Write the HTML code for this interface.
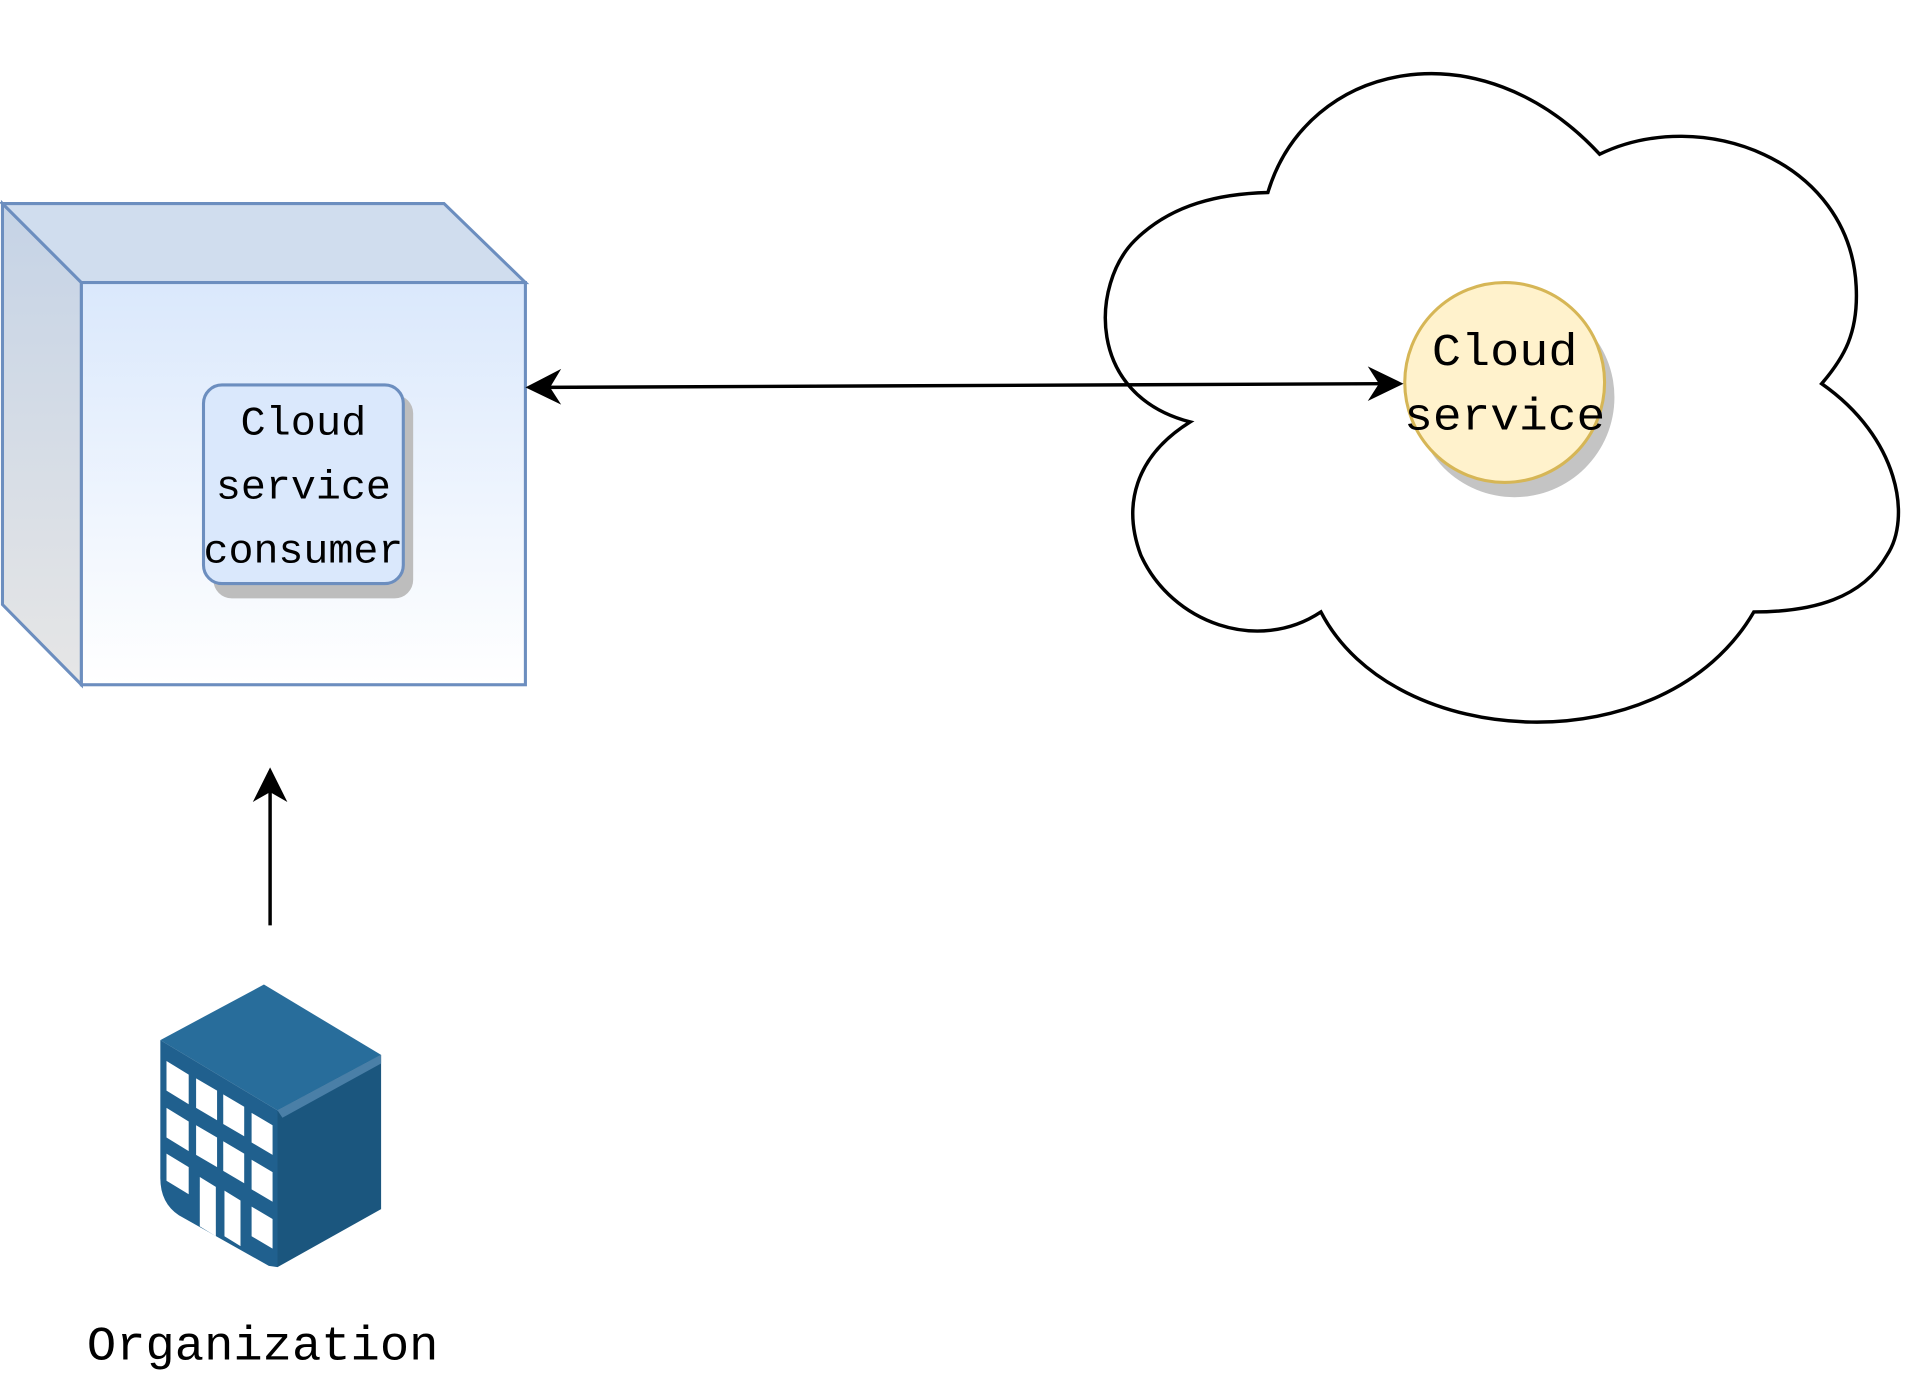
<!DOCTYPE html>
<html><head><meta charset="utf-8"><style>
html,body{margin:0;padding:0;background:#fff;width:1924px;height:1388px;overflow:hidden}
svg{display:block}
text{font-family:"Liberation Mono",monospace;fill:#000}
</style></head><body>
<svg width="1924" height="1388" viewBox="0 0 1560 1125" preserveAspectRatio="none">
<defs>
<linearGradient id="g" x1="0" y1="0" x2="0" y2="1">
<stop offset="0" stop-color="#dae8fc"/><stop offset="1" stop-color="#ffffff"/>
</linearGradient>
<linearGradient id="gl" x1="0" y1="0" x2="0" y2="1">
<stop offset="0" stop-color="#c5d3e6"/><stop offset="1" stop-color="#e6e6e6"/>
</linearGradient>
</defs>
<polygon points="2,165 66,229 66,555 2,490" fill="url(#gl)" stroke="#6c8ebf" stroke-width="2.5"/>
<polygon points="2,165 360,165 426,229 66,229" fill="#d0ddee" stroke="#6c8ebf" stroke-width="2.5"/>
<rect x="66" y="229" width="360" height="326" fill="url(#g)" stroke="#6c8ebf" stroke-width="2.5"/>
<rect x="173" y="320" width="162" height="165" rx="15" fill="#bdbdbd"/>
<rect x="165" y="312" width="162" height="161" rx="15" fill="#dae8fc" stroke="#6c8ebf" stroke-width="2.5"/>
<text x="246" y="352" font-size="33" text-anchor="middle" textLength="102" lengthAdjust="spacingAndGlyphs">Cloud</text>
<text x="246" y="404" font-size="33" text-anchor="middle" textLength="142" lengthAdjust="spacingAndGlyphs">service</text>
<text x="246" y="456" font-size="33" text-anchor="middle" textLength="162" lengthAdjust="spacingAndGlyphs">consumer</text>
<path d="M1028,156 C1060,50 1200,20 1297,125 C1380,85 1500,130 1505,232 C1507,270 1495,290 1477,311 C1540,355 1550,420 1530,450 C1510,485 1470,496 1422,496 C1350,620 1130,610 1071,496 C1020,530 950,505 925,450 C910,410 920,370 965,342 C880,320 885,230 920,195 C950,165 990,157 1028,156 Z" fill="#fff" stroke="#000" stroke-width="2.8"/>
<circle cx="1228" cy="322" r="81" fill="#c4c4c4"/>
<circle cx="1220" cy="310" r="81" fill="#fff2cc" stroke="#d6b656" stroke-width="2.5"/>
<text x="1220" y="296" font-size="37" text-anchor="middle" textLength="118" lengthAdjust="spacingAndGlyphs">Cloud</text>
<text x="1220" y="348" font-size="37" text-anchor="middle" textLength="163" lengthAdjust="spacingAndGlyphs">service</text>
<line x1="440" y1="314" x2="1120" y2="311" stroke="#000" stroke-width="2.8"/>
<polygon points="426,314 455,299 446,314 455,328" fill="#000"/>
<polygon points="1138,311 1109,297 1118,311 1109,325" fill="#000"/>
<line x1="219" y1="750" x2="219" y2="638" stroke="#000" stroke-width="2.8"/>
<polygon points="219,622 205,650 219,642 233,650" fill="#000"/>
<polygon points="130,843 214,798 309,855 225,900" fill="#286d9b"/>
<polygon points="225,900 309,855 309,980 225,1027" fill="#1b567e"/>
<polygon points="225,900 309,855 309,862 229,906" fill="#4a7fa7"/>
<path d="M130,843 L225,900 L225,1027 L218,1026 L145,985 Q130,975 130,955 Z" fill="#20608e"/>
<g fill="#fff">
<polygon points="135,860 153,871 153,895 135,884"/>
<polygon points="135,898 153,909 153,933 135,922"/>
<polygon points="135,935 153,946 153,968 135,957"/>
<polygon points="159,874 176,884 176,908 159,898"/>
<polygon points="159,912 176,922 176,946 159,936"/>
<polygon points="162,954 175,962 175,1002 162,994"/>
<polygon points="181,887 198,897 198,921 181,911"/>
<polygon points="181,925 198,935 198,959 181,949"/>
<polygon points="182,965 195,973 195,1010 182,1002"/>
<polygon points="204,902 221,912 221,936 204,926"/>
<polygon points="204,940 221,950 221,974 204,964"/>
<polygon points="204,978 221,988 221,1012 204,1002"/>
</g>
<text x="213" y="1102" font-size="39" text-anchor="middle" textLength="285" lengthAdjust="spacingAndGlyphs">Organization</text>
</svg>
</body></html>
